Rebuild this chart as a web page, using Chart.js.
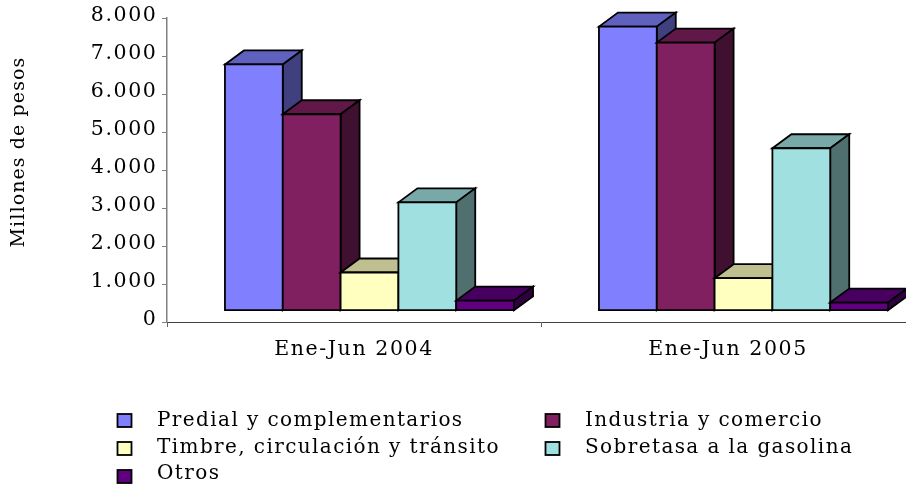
<!DOCTYPE html>
<html><head><meta charset="utf-8">
<style>html,body{margin:0;padding:0;background:#fff;overflow:hidden;width:906px;height:484px}canvas{display:block}</style>
<script src="https://cdn.jsdelivr.net/npm/chart.js@4"></script></head>
<body><canvas id="c" width="916" height="484"></canvas>
<script>
const categories = ['Ene-Jun 2004', 'Ene-Jun 2005'];
const seriesNames = ['Predial y complementarios', 'Industria y comercio', 'Timbre, circulación y tránsito', 'Sobretasa a la gasolina', 'Otros'];
const predial = [6480, 7475];
const industria = [5170, 7055];
const timbre = [1005, 855];
const sobretasa = [2850, 4275];
const otros = [265, 215];
const frontColors = ['#8080FF', '#802060', '#FFFFC0', '#A0E0E0', '#600080'];
const topColors = ['#6060BF', '#601848', '#BFBF90', '#78A8A8', '#480060'];
const sideColors = ['#404080', '#401030', '#808060', '#507070', '#300040'];
const FONT = '"DejaVu Serif"';
const DEPTH_X = 19, DEPTH_Y = 14, SHIFT_X = 15.5, SHIFT_Y = -11.3;
const axisTitle = 'Millones de pesos';

const bars3d = {
  id: 'bars3d',
  beforeDraw(chart) { chart.ctx.letterSpacing = '1.6px'; },
  beforeDatasetDraw() { return false; },
  afterDatasetsDraw(chart) {
    const ctx = chart.ctx;
    ctx.save();
    ctx.lineWidth = 1.8; ctx.strokeStyle = '#000'; ctx.lineJoin = 'miter';
    categories.forEach((_, i) => {
      chart.data.datasets.forEach((ds, d) => {
        const el = chart.getDatasetMeta(d).data[i];
        const l = el.x - el.width / 2 + SHIFT_X, r = l + el.width;
        const t = el.y + SHIFT_Y, b = el.base + SHIFT_Y;
        const face = (pts, col) => {
          ctx.beginPath();
          pts.forEach((p, k) => k ? ctx.lineTo(p[0], p[1]) : ctx.moveTo(p[0], p[1]));
          ctx.closePath(); ctx.fillStyle = col; ctx.fill(); ctx.stroke();
        };
        face([[l, t], [l + DEPTH_X, t - DEPTH_Y], [r + DEPTH_X, t - DEPTH_Y], [r, t]], topColors[d]);
        face([[r, t], [r + DEPTH_X, t - DEPTH_Y], [r + DEPTH_X, b - DEPTH_Y], [r, b]], sideColors[d]);
        face([[l, t], [r, t], [r, b], [l, b]], ds.backgroundColor);
      });
    });
    ctx.restore();
  },
  afterDraw(chart) {
    const ctx = chart.ctx;
    const cols = [[117.5, 157], [545.5, 585]], rows = [414, 442, 470], baselines = [426, 453, 479];
    ctx.save();
    ctx.letterSpacing = '1.4px';
    ctx.font = '20px ' + FONT; ctx.textBaseline = 'alphabetic'; ctx.textAlign = 'left';
    chart.data.datasets.forEach((ds, d) => {
      const c = cols[d % 2], r = Math.floor(d / 2);
      ctx.fillStyle = ds.backgroundColor; ctx.strokeStyle = '#000'; ctx.lineWidth = 1.8;
      ctx.fillRect(c[0], rows[r], 14, 13); ctx.strokeRect(c[0], rows[r], 14, 13);
      ctx.fillStyle = '#000';
      ctx.fillText(ds.label, c[1], baselines[r]);
    });
    ctx.translate(24, 152); ctx.rotate(-Math.PI / 2);
    ctx.letterSpacing = '1.1px'; ctx.font = '19px ' + FONT; ctx.textAlign = 'center';
    ctx.fillText(axisTitle, 0, 0);
    ctx.restore();
  }
};

const values = [predial, industria, timbre, sobretasa, otros];
new Chart(document.getElementById('c'), {
  type: 'bar',
  data: {
    labels: categories,
    datasets: seriesNames.map((n, i) => ({ label: n, data: values[i], backgroundColor: frontColors[i], categoryPercentage: 0.773, barPercentage: 1 }))
  },
  plugins: [bars3d],
  options: {
    responsive: false, animation: false,
    layout: { padding: { top: 18, right: 1, left: 0, bottom: 0 } },
    plugins: { legend: { display: false }, title: { display: false }, tooltip: { enabled: false } },
    scales: {
      x: {
        afterFit(s) { s.height = 162; },
        border: { color: '#404040', width: 1 },
        grid: { drawOnChartArea: false, color: '#606060', tickLength: 5, offset: true },
        ticks: { color: '#000', font: { family: FONT, size: 20.5 }, padding: 10, maxRotation: 0 }
      },
      y: {
        min: 0, max: 8000,
        afterFit(s) { s.width = 167; },
        border: { color: '#808080', width: 1.5 },
        grid: { drawOnChartArea: false, color: '#808080', tickLength: 5 },
        ticks: {
          stepSize: 1000, color: '#000', font: { family: FONT, size: 20.5 }, padding: 4.5, labelOffset: -2,
          callback: v => v === 0 ? '0' : String(v).replace(/\B(?=(\d{3})+$)/g, '.')
        }
      }
    }
  }
});
</script></body></html>
